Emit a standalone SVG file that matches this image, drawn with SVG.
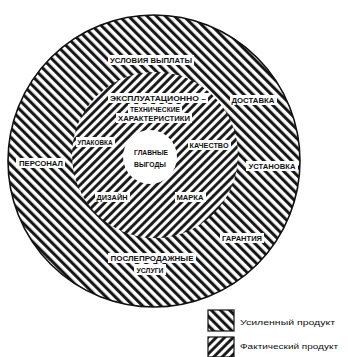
<svg xmlns="http://www.w3.org/2000/svg" width="349" height="357" viewBox="0 0 349 357">
  <defs>
    <pattern id="hatchBack" patternUnits="userSpaceOnUse" width="6.5" height="6.5" patternTransform="rotate(-45)">
      <rect width="6.5" height="6.5" fill="#fff"/>
      <line x1="1.6" y1="-1" x2="1.6" y2="8" stroke="#111" stroke-width="3"/>
    </pattern>
    <pattern id="hatchFwd" patternUnits="userSpaceOnUse" width="6" height="6" patternTransform="rotate(45)">
      <rect width="6" height="6" fill="#fff"/>
      <line x1="1.5" y1="-1" x2="1.5" y2="7" stroke="#111" stroke-width="2.8"/>
    </pattern>
  </defs>
  <style>
    .lbl { font-family: "Liberation Sans", Arial, sans-serif; font-size: 7px; font-weight: bold; fill: #111; text-anchor: middle; }
    .bg { fill: #fff; }
    .leg { font-family: "Liberation Sans", Arial, sans-serif; font-size: 8px; fill: #111; }
  </style>
  <rect width="349" height="357" fill="#fff"/>

  <g id="augmented-product">
    <circle cx="154" cy="161" r="146" fill="url(#hatchBack)" stroke="#111" stroke-width="1.6"/>
  </g>
  <g id="actual-product">
    <circle cx="155" cy="155" r="83" fill="url(#hatchFwd)"/>
  </g>
  <g id="core-benefit">
    <circle cx="150" cy="157" r="27" fill="#fff"/>
  </g>

  <g id="labels">
    <g id="l-usloviya"><rect class="bg" x="108" y="55" width="86" height="10"/><text class="lbl" x="151" y="62.5" textLength="82" lengthAdjust="spacingAndGlyphs">УСЛОВИЯ ВЫПЛАТЫ</text></g>
    <g id="l-expl"><rect class="bg" x="108" y="93" width="100" height="10"/><text class="lbl" x="158" y="100.5" textLength="96" lengthAdjust="spacingAndGlyphs">ЭКСПЛУАТАЦИОННО –</text></g>
    <g id="l-tekh"><rect class="bg" x="128" y="104" width="54" height="10"/><text class="lbl" x="155" y="111.5" textLength="50" lengthAdjust="spacingAndGlyphs">ТЕХНИЧЕСКИЕ</text></g>
    <g id="l-khar"><rect class="bg" x="116" y="113" width="76" height="10"/><text class="lbl" x="154" y="120.5" textLength="72" lengthAdjust="spacingAndGlyphs">ХАРАКТЕРИСТИКИ</text></g>
    <g id="l-dostavka"><rect class="bg" x="230" y="95" width="47" height="10"/><text class="lbl" x="253" y="102.5" textLength="43" lengthAdjust="spacingAndGlyphs">ДОСТАВКА</text></g>
    <g id="l-upakovka"><rect class="bg" x="76" y="137" width="39" height="10"/><text class="lbl" x="95" y="144.5" textLength="35" lengthAdjust="spacingAndGlyphs">УПАКОВКА</text></g>
    <g id="l-kachestvo"><rect class="bg" x="188" y="140" width="43" height="10"/><text class="lbl" x="209" y="147.5" textLength="39" lengthAdjust="spacingAndGlyphs">КАЧЕСТВО</text></g>
    <g id="l-glavnye"><text class="lbl" x="151" y="154.5" textLength="34" lengthAdjust="spacingAndGlyphs">ГЛАВНЫЕ</text><text class="lbl" x="150" y="166.5" textLength="32" lengthAdjust="spacingAndGlyphs">ВЫГОДЫ</text></g>
    <g id="l-personal"><rect class="bg" x="16" y="158" width="49" height="10"/><text class="lbl" x="41" y="165.5" textLength="44" lengthAdjust="spacingAndGlyphs">ПЕРСОНАЛ</text></g>
    <g id="l-ustanovka"><rect class="bg" x="246" y="161" width="52" height="10"/><text class="lbl" x="272" y="168.5" textLength="47" lengthAdjust="spacingAndGlyphs">УСТАНОВКА</text></g>
    <g id="l-dizain"><rect class="bg" x="95" y="192" width="35" height="10"/><text class="lbl" x="112" y="199.5" textLength="31" lengthAdjust="spacingAndGlyphs">ДИЗАЙН</text></g>
    <g id="l-marka"><rect class="bg" x="175" y="192" width="31" height="10"/><text class="lbl" x="190" y="199.5" textLength="27" lengthAdjust="spacingAndGlyphs">МАРКА</text></g>
    <g id="l-garantiya"><rect class="bg" x="220" y="233" width="44" height="10"/><text class="lbl" x="242" y="240.5" textLength="40" lengthAdjust="spacingAndGlyphs">ГАРАНТИЯ</text></g>
    <g id="l-posleprod"><rect class="bg" x="108" y="253" width="88" height="10"/><text class="lbl" x="152" y="260.5" textLength="83" lengthAdjust="spacingAndGlyphs">ПОСЛЕПРОДАЖНЫЕ</text></g>
    <g id="l-uslugi"><rect class="bg" x="134" y="264" width="32" height="11"/><text class="lbl" x="150" y="272.5" textLength="27" lengthAdjust="spacingAndGlyphs">УСЛУГИ</text></g>
  </g>

  <g id="legend">
    <g id="leg-augmented">
      <rect x="208" y="310" width="26" height="21" fill="url(#hatchBack)" stroke="#111" stroke-width="1.2"/>
      <text class="leg" x="240" y="325" textLength="95" lengthAdjust="spacingAndGlyphs">Усиленный продукт</text>
    </g>
    <g id="leg-actual">
      <rect x="208" y="337" width="26" height="20" fill="url(#hatchFwd)" stroke="#111" stroke-width="1.2"/>
      <text class="leg" x="240" y="349" textLength="98" lengthAdjust="spacingAndGlyphs">Фактический продукт</text>
    </g>
  </g>
</svg>
